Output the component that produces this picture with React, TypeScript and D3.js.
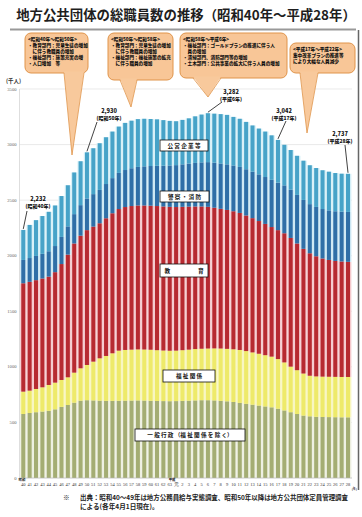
import React from 'react';
import * as d3 from 'd3';

// ---------- data ----------
const years = ['40','41','42','43','44','45','46','47','48','49','50','51','52','53','54','55','56','57','58','59','60','61','62','63','元','2','3','4','5','6','7','8','9','10','11','12','13','14','15','16','17','18','19','20','21','22','23','24','25','26','27','28'];
const general = [576,585,592,598,605,618,640,657,678,696,700,698,696,694,694,695,696,697,698,697,695,693,692,691,692,694,696,698,700,700,698,694,690,684,676,668,660,652,644,636,624,608,592,576,562,555,551,549,548,547,546,546];
const welfare = [201,201,209,218,232,240,242,249,270,291,317,349,381,404,428,451,456,458,459,459,459,457,455,454,454,456,459,462,463,465,468,471,472,474,476,474,470,466,461,456,446,432,410,394,378,365,363,363,363,363,363,363];
const education = [975,979,979,979,975,994,1043,1104,1162,1193,1213,1215,1215,1239,1260,1274,1286,1292,1295,1296,1296,1297,1296,1295,1292,1290,1287,1283,1280,1275,1266,1257,1250,1242,1233,1220,1208,1194,1181,1166,1160,1162,1158,1140,1122,1102,1081,1063,1051,1043,1039,1036];
const policeFire = [210,214,218,222,228,235,244,254,264,275,285,292,300,308,316,325,333,340,347,352,357,362,367,372,377,382,387,392,397,402,405,408,410,412,414,416,418,420,422,425,428,431,434,437,440,442,444,445,446,447,448,449];
const publicEnterprise = [270,298,322,340,355,365,368,370,375,395,415,413,420,421,419,417,424,428,430,428,423,418,410,401,395,400,407,419,430,440,441,444,445,437,433,426,416,412,409,400,384,365,357,352,353,350,350,349,348,344,342,343];
const seriesKeys = ['general','welfare','education','policeFire','publicEnterprise'];
const seriesNames = ['一 般 行 政 （福 祉 関 係 を 除 く）','福 祉 関 係','教　　　　　育','警 察 ・ 消 防','公 営 企 業 等'];
const yTicks = [0,500,1000,1500,2000,2500,3000,3500];
const annIndex = [0,10,29,40,51];
const annYear = ['(昭和40年)','(昭和50年)','(平成6年)','(平成17年)','(平成28年)'];
const callouts = [
  ['<昭和40年～昭和50年>','・教育部門：児童生徒の増加','　に伴う教職員の増加','・福祉部門：施策充実の増','・人口増加　等'],
  ['<昭和50年～昭和58年>','・教育部門：児童生徒の増加','　に伴う教職員の増加','・福祉部門：福祉施策の拡充','　に伴う職員の増加'],
  ['<昭和58年～平成6年>','・福祉部門：ゴールドプランの推進に伴う人','　員の増加','・清掃部門、消防部門等の増加','・土木部門：公共事業の拡大に伴う人員の増加'],
  ['<平成17年～平成22年>','集中改革プランの推進等','により大幅な人員減少'],
];
const noteMark = '※';
const note1 = '出典：昭和40～49年は地方公務員給与実態調査、昭和50年以降は地方公共団体定員管理調査';
const note2 = 'による(各年4月1日現在)。';

// ---------- styles / layout ----------
const barColors = ['#a4ad73','#eeea6a','#b72a31','#2f6fa7','#47a3c8'];
const gapColors = ['#eef0e2','#f8f6c2','#f5ccd0','#cfe9f4','#d9f1f8'];
const FONT = '"Noto Sans CJK JP", "Noto Sans", sans-serif';
const SERIF = '"Liberation Serif", "DejaVu Serif", serif';
const labelBoxes = [
  { x: 135, y: 429, w: 110, h: 12 },
  { x: 163, y: 370, w: 52, h: 12 },
  { x: 160, y: 264, w: 48, h: 13 },
  { x: 160, y: 191, w: 49, h: 11 },
  { x: 160, y: 140, w: 48, h: 11 },
];
const annLayout = [
  { cx: 38, ny: 201, lx: 27, ly: 211 },
  { cx: 109, ny: 113, lx: 97, ly: 122 },
  { cx: 231, ny: 94, lx: 222, ly: 102 },
  { cx: 284, ny: 113, lx: 286, ly: 121 },
  { cx: 340, ny: 136, lx: 345, ly: 145 },
];
const calloutLayout = [
  { x: 25, y: 33, w: 63, h: 40, b0: 64, b1: 84, tx: 72, ty: 155 },
  { x: 108, y: 33, w: 65, h: 47, b0: 120, b1: 137, tx: 131, ty: 107 },
  { x: 180, y: 33, w: 107, h: 45, b0: 193, b1: 221, tx: 208, ty: 97 },
  { x: 290, y: 43, w: 65, h: 30, b0: 300, b1: 318, tx: 307, ty: 133 },
];

export default function App() {
  const W = 362, H = 517;
  const table = years.map((yr, i) => ({
    year: yr,
    general: general[i],
    welfare: welfare[i],
    education: education[i],
    policeFire: policeFire[i],
    publicEnterprise: publicEnterprise[i],
  }));
  const totals = table.map(d => d.general + d.welfare + d.education + d.policeFire + d.publicEnterprise);
  const stack = d3.stack<any>().keys(seriesKeys)(table);

  const x = d3.scaleBand<string>().domain(years).range([20.1, 351.2]).paddingInner(0.37).paddingOuter(0.185);
  const step = x.step();
  const bw = x.bandwidth();
  const cx = (i: number) => (x(years[i]) as number) + bw / 2;
  const y = d3.scaleLinear().domain([0, 3500]).range([478, 89]);
  const fmt = d3.format(',');

  return (
    <svg width={W} height={H} style={{ position: 'absolute', left: 0, top: 0, background: '#fff' }} fontFamily={FONT}>
      <rect x={0} y={0} width={W} height={H} fill="#fff" />
      {/* title */}
      <text x={186} y={20} textAnchor="middle" fontSize={13.4} fontWeight={700} fill="#1e1e1e">地方公共団体の総職員数の推移（昭和40年～平成28年）</text>
      <line x1={10} x2={356} y1={29.5} y2={29.5} stroke="#999" strokeWidth={2} />
      <line x1={358.5} x2={358.5} y1={30} y2={490} stroke="#666" strokeWidth={1.5} />

      {/* grid */}
      {yTicks.map(t => (
        <g key={t}>
          <line x1={19.5} x2={352} y1={y(t)} y2={y(t)} stroke="#dcdcdc" strokeWidth={0.6} />
          <text x={16.5} y={y(t) + 1.5} textAnchor="end" fontSize={4.6} fill="#666" fontFamily={SERIF}>{t}</text>
        </g>
      ))}
      <line x1={19.5} x2={19.5} y1={89} y2={478} stroke="#c8c8c8" strokeWidth={0.6} />
      <text x={6} y={83} fontSize={5.5} fontWeight={700} fill="#333">(千人)</text>

      {/* gap backgrounds */}
      {stack.map((layer, s) => (
        <g key={'bg' + s}>
          {layer.map((d, i) => (
            <rect key={i} x={cx(i) - step / 2} width={step + 0.2} y={y(d[1])} height={y(d[0]) - y(d[1])} fill={gapColors[s]} />
          ))}
        </g>
      ))}
      {/* bars */}
      {stack.map((layer, s) => (
        <g key={'bar' + s}>
          {layer.map((d, i) => (
            <rect key={i} x={x(years[i])} width={bw} y={y(d[1])} height={y(d[0]) - y(d[1])} fill={barColors[s]} />
          ))}
        </g>
      ))}
      <line x1={19.5} x2={352} y1={478} y2={478} stroke="#bbb" strokeWidth={0.6} />

      {/* x tick labels */}
      {years.map((yr, i) => (
        <text key={yr + i} x={cx(i)} y={486.3} textAnchor="middle" fontSize={4.5} fill="#333" fontFamily={SERIF}>{yr}</text>
      ))}
      <text x={22} y={481} textAnchor="middle" fontSize={3.4} fontWeight={700} fill="#222">昭和</text>
      <text x={cx(24) - 4} y={481} textAnchor="middle" fontSize={3.4} fontWeight={700} fill="#222">平成</text>
      <text x={354.3} y={489.6} textAnchor="middle" fontSize={3.0} fontWeight={700} fill="#222">(年)</text>

      {/* series labels */}
      {labelBoxes.map((b, s) => (
        <g key={'lb' + s}>
          <rect x={b.x} y={b.y} width={b.w} height={b.h} fill="#fff" stroke="#111" strokeWidth={0.8} />
          <text x={b.x + b.w / 2} y={b.y + b.h / 2 + 2} textAnchor="middle" fontSize={5.6} fontWeight={700} fill="#111">{seriesNames[s]}</text>
        </g>
      ))}

      {/* value annotations */}
      {annIndex.map((idx, k) => {
        const a = annLayout[k];
        return (
          <g key={'ann' + k}>
            <line x1={a.lx} y1={a.ly} x2={cx(idx)} y2={y(totals[idx]) - 1} stroke="#111" strokeWidth={0.8} />
            <text x={a.cx} y={a.ny} textAnchor="middle" fontSize={5.6} fontWeight={900} fill="#111">{fmt(totals[idx])}</text>
            <text x={a.cx} y={a.ny + 6.5} textAnchor="middle" fontSize={5} fontWeight={900} fill="#111">{annYear[k]}</text>
          </g>
        );
      })}

      {/* callouts */}
      {callouts.map((lines, k) => {
        const c = calloutLayout[k];
        const by = c.y + c.h;
        return (
          <g key={'co' + k}>
            <rect x={c.x} y={c.y} width={c.w} height={c.h} rx={6} fill="#f8c697" stroke="#e0944a" strokeWidth={1} />
            <polygon points={`${c.b0},${by - 1.5} ${c.b1},${by - 1.5} ${c.tx},${c.ty}`} fill="#f8c99c" />
            <polyline points={`${c.b0},${by} ${c.tx},${c.ty} ${c.b1},${by}`} fill="none" stroke="#e0944a" strokeWidth={0.8} />
            {lines.map((ln, j) => (
              <text key={j} x={c.x + 3} y={c.y + 7.5 + j * 6} fontSize={4.6} fontWeight={900} fill="#111">{ln}</text>
            ))}
          </g>
        );
      })}

      {/* note */}
      <text x={63} y={499.5} fontSize={6.6} fontWeight={700} fill="#222">{noteMark}</text>
      <text x={80} y={499.5} fontSize={6.6} fontWeight={700} fill="#222" textLength={268} lengthAdjust="spacingAndGlyphs">{note1}</text>
      <text x={80} y={509} fontSize={6.6} fontWeight={700} fill="#222">{note2}</text>
    </svg>
  );
}
